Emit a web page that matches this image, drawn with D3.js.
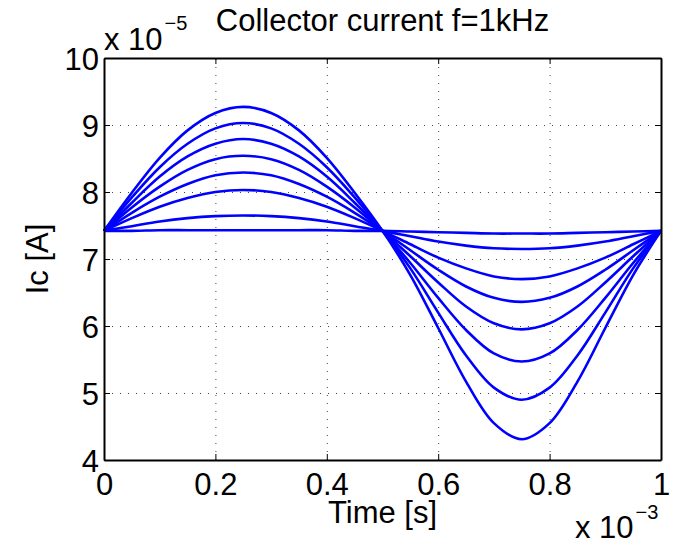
<!DOCTYPE html>
<html>
<head>
<meta charset="utf-8">
<script src="https://cdn.jsdelivr.net/npm/d3@7"></script>
<style>
  body { margin: 0; background: #fff; }
  text { font-family: "Liberation Sans", Arial, Helvetica, sans-serif; fill: #000; }
</style>
</head>
<body>
<div id="chart"></div>
<script>
// time samples, in ms (axis shows x 10^-3 s)
var timeMs = [0, 0.05, 0.1, 0.15, 0.2, 0.25, 0.3, 0.35, 0.4, 0.45, 0.5,
              0.55, 0.6, 0.65, 0.7, 0.75, 0.8, 0.85, 0.9, 0.95, 1.0];

// collector current, in units of 1e-5 A, one array per input amplitude
var ic1 = [7.42, 7.42, 7.43, 7.43, 7.43, 7.43, 7.43, 7.43, 7.43, 7.42, 7.42, 7.41, 7.40, 7.39, 7.38, 7.38, 7.38, 7.39, 7.40, 7.41, 7.42];
var ic2 = [7.42, 7.49, 7.56, 7.61, 7.64, 7.65, 7.64, 7.61, 7.56, 7.49, 7.42, 7.34, 7.26, 7.20, 7.16, 7.15, 7.16, 7.20, 7.26, 7.34, 7.42];
var ic3 = [7.42, 7.61, 7.78, 7.91, 8.00, 8.03, 8.00, 7.91, 7.78, 7.61, 7.42, 7.22, 7.02, 6.86, 6.74, 6.70, 6.74, 6.86, 7.02, 7.22, 7.42];
var ic4 = [7.42, 7.69, 7.93, 8.12, 8.25, 8.29, 8.25, 8.12, 7.93, 7.69, 7.42, 7.13, 6.84, 6.59, 6.42, 6.36, 6.42, 6.59, 6.84, 7.13, 7.42];
var ic5 = [7.42, 7.77, 8.08, 8.33, 8.49, 8.54, 8.49, 8.33, 8.08, 7.77, 7.42, 7.04, 6.65, 6.29, 6.04, 5.95, 6.04, 6.29, 6.65, 7.04, 7.42];
var ic6 = [7.42, 7.84, 8.23, 8.53, 8.72, 8.79, 8.72, 8.53, 8.23, 7.84, 7.42, 6.94, 6.42, 5.94, 5.59, 5.47, 5.59, 5.94, 6.42, 6.94, 7.42];
var ic7 = [7.42, 7.92, 8.37, 8.72, 8.95, 9.03, 8.95, 8.72, 8.37, 7.92, 7.42, 6.86, 6.20, 5.56, 5.08, 4.90, 5.08, 5.56, 6.20, 6.86, 7.42];
var ic8 = [7.42, 7.99, 8.51, 8.92, 9.18, 9.27, 9.18, 8.92, 8.51, 7.99, 7.42, 6.76, 5.97, 5.17, 4.55, 4.31, 4.55, 5.17, 5.97, 6.76, 7.42];

var xTicks = [0, 0.2, 0.4, 0.6, 0.8, 1];
var yTicks = [4, 5, 6, 7, 8, 9, 10];

var svgWidth = 673;
var svgHeight = 546;
var plot = {left: 104, right: 661, top: 58, bottom: 460};
var fontSize = "31px";

var svg = d3.select("#chart")
	.append("svg")
	.attr("width", svgWidth)
	.attr("height", svgHeight);

svg.append("rect")
	.attr("width", svgWidth)
	.attr("height", svgHeight)
	.attr("fill", "#fff");

var xScale = d3.scaleLinear()
	.domain([0, 1])
	.range([plot.left, plot.right]);

var yScale = d3.scaleLinear()
	.domain([4, 10])
	.range([plot.bottom, plot.top]);

var w = plot.right - plot.left;
var h = plot.bottom - plot.top;

// dotted grid lines
svg.append("g")
	.attr("transform", "translate(0," + plot.bottom + ")")
	.call(d3.axisBottom(xScale).tickValues(xTicks).tickSize(-h).tickFormat(""))
	.call(function(g){ g.select(".domain").remove(); })
	.selectAll("line")
	.attr("stroke", "#444")
	.attr("stroke-width", 1)
	.attr("stroke-dasharray", "1,7");

svg.append("g")
	.attr("transform", "translate(" + plot.left + ",0)")
	.call(d3.axisLeft(yScale).tickValues(yTicks).tickSize(-w).tickFormat(""))
	.call(function(g){ g.select(".domain").remove(); })
	.selectAll("line")
	.attr("stroke", "#444")
	.attr("stroke-width", 1)
	.attr("stroke-dasharray", "1,7");

// curves
var series = [ic1, ic2, ic3, ic4, ic5, ic6, ic7, ic8];
var line = d3.line()
	.x(function(d, i){ return xScale(timeMs[i]); })
	.y(function(d){ return yScale(d); })
	.curve(d3.curveCatmullRom);

svg.selectAll("path.curve")
	.data(series)
	.enter()
	.append("path")
	.attr("class", "curve")
	.attr("d", line)
	.attr("fill", "none")
	.attr("stroke", "#0000ff")
	.attr("stroke-width", 2.6)
	.attr("stroke-linejoin", "round");

// axes with inward ticks on all four sides
function styleAxis(g){
	g.select(".domain").attr("stroke", "#000").attr("stroke-width", 2);
	g.selectAll(".tick line").attr("stroke", "#000").attr("stroke-width", 1);
}

svg.append("g")
	.attr("transform", "translate(0," + plot.bottom + ")")
	.call(d3.axisBottom(xScale).tickValues(xTicks).tickSizeInner(-6).tickSizeOuter(0)
		.tickFormat(function(d){ return d === 0 || d === 1 ? d3.format("d")(d) : d3.format(".1f")(d); }))
	.call(styleAxis)
	.selectAll("text")
	.style("font-size", fontSize)
	.attr("y", 35)
	.attr("dy", 0);

svg.append("g")
	.attr("transform", "translate(0," + plot.top + ")")
	.call(d3.axisTop(xScale).tickValues(xTicks).tickSizeInner(-6).tickSizeOuter(0).tickFormat(""))
	.call(styleAxis);

svg.append("g")
	.attr("transform", "translate(" + plot.left + ",0)")
	.call(d3.axisLeft(yScale).tickValues(yTicks).tickSizeInner(-6).tickSizeOuter(0)
		.tickFormat(d3.format("d")))
	.call(styleAxis)
	.selectAll("text")
	.style("font-size", fontSize)
	.attr("x", -5)
	.attr("dy", "0.36em");

svg.append("g")
	.attr("transform", "translate(" + plot.right + ",0)")
	.call(d3.axisRight(yScale).tickValues(yTicks).tickSizeInner(-6).tickSizeOuter(0).tickFormat(""))
	.call(styleAxis);

// exponent labels
var yExp = svg.append("text")
	.attr("x", 104)
	.attr("y", 50)
	.style("font-size", fontSize);
yExp.append("tspan").text("x 10");
yExp.append("tspan").attr("dy", -20).attr("dx", 2).style("font-size", "20px").text("\u22125");

var xExp = svg.append("text")
	.attr("x", 575)
	.attr("y", 538)
	.style("font-size", fontSize);
xExp.append("tspan").text("x 10");
xExp.append("tspan").attr("dy", -19).attr("dx", 2).style("font-size", "20px").text("\u22123");

// title and axis labels
svg.append("text")
	.attr("x", (plot.left + plot.right) / 2)
	.attr("y", 31)
	.style("text-anchor", "middle")
	.style("font-size", fontSize)
	.text("Collector current f=1kHz");

svg.append("text")
	.attr("x", (plot.left + plot.right) / 2)
	.attr("y", 523)
	.style("text-anchor", "middle")
	.style("font-size", fontSize)
	.text("Time [s]");

svg.append("text")
	.attr("transform", "translate(48," + ((plot.top + plot.bottom) / 2) + ") rotate(-90)")
	.style("text-anchor", "middle")
	.style("font-size", fontSize)
	.text("Ic [A]");
</script>
</body>
</html>
